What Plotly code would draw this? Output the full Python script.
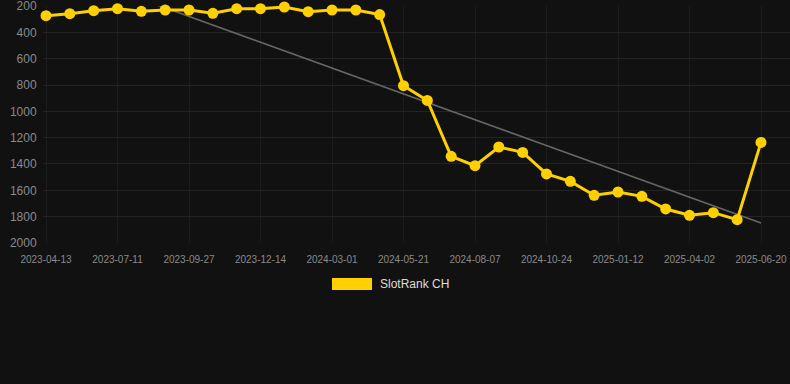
import numpy as np
import plotly.graph_objects as go

dates = [
    "2023-04-13", "2023-05-13", "2023-06-11", "2023-07-11", "2023-08-06", "2023-09-01",
    "2023-09-27", "2023-10-23", "2023-11-18", "2023-12-14", "2024-01-09", "2024-02-04",
    "2024-03-01", "2024-03-28", "2024-04-24", "2024-05-21", "2024-06-16", "2024-07-12",
    "2024-08-07", "2024-09-02", "2024-09-28", "2024-10-24", "2024-11-20", "2024-12-17",
    "2025-01-12", "2025-02-08", "2025-03-07", "2025-04-02", "2025-04-28", "2025-05-25",
    "2025-06-20",
]
ranks = [
    273, 258, 235, 220, 240, 230, 230, 255, 220, 220, 207, 243, 230, 230, 265,
    805, 917, 1342, 1413, 1271, 1312, 1476, 1532, 1638, 1613, 1646, 1742, 1790,
    1770, 1823, 1236,
]
y_ticks = [200, 400, 600, 800, 1000, 1200, 1400, 1600, 1800, 2000]
series_name = "SlotRank CH"

idx = np.arange(len(ranks))
slope, intercept = np.polyfit(idx, ranks, 1)
trend = slope * idx + intercept

YELLOW = "#FFD000"
BG = "#111111"
GRID = "#232323"

fig = go.Figure()
fig.add_trace(go.Scatter(
    x=dates, y=trend, mode="lines",
    line=dict(color="#666666", width=1.6),
    hoverinfo="skip", showlegend=False,
))
fig.add_trace(go.Scatter(
    x=dates, y=ranks, mode="lines+markers", name=series_name,
    line=dict(color=YELLOW, width=3),
    marker=dict(color=YELLOW, size=11),
    cliponaxis=False, showlegend=False,
))

# legend drawn manually (wide colour box + label)
fig.add_shape(type="rect", xref="paper", yref="paper",
              x0=(332 - 43) / 747, x1=(372 - 43) / 747,
              y0=(243 - 290) / 237, y1=(243 - 278) / 237,
              fillcolor=YELLOW, line=dict(width=0))
fig.add_annotation(xref="paper", yref="paper",
                   x=(378 - 43) / 747, y=(243 - 284) / 237,
                   xanchor="left", yanchor="middle", showarrow=False,
                   text=series_name,
                   font=dict(family="Liberation Sans, Arial, sans-serif", size=12, color="#dddddd"))

px_per = (761 - 46) / 30
fig.update_layout(
    width=790, height=384,
    margin=dict(l=43, r=0, t=6, b=141),
    paper_bgcolor=BG, plot_bgcolor=BG,
    font=dict(family="Liberation Sans, Arial, sans-serif"),
    showlegend=False,
    xaxis=dict(
        type="category",
        range=[-(46 - 43) / px_per, 30 + (790 - 761) / px_per],
        tickmode="array", tickvals=dates[::3], ticktext=dates[::3],
        tickfont=dict(size=10, color="#8a8a8a"),
        showgrid=True, gridcolor="#1c1c1c", gridwidth=1,
        zeroline=False, showline=False,
        ticks="outside", ticklen=7, tickcolor=BG,
        tickangle=0, ticklabeloverflow="allow",
    ),
    yaxis=dict(
        range=[2000.5, 199.5],
        tickmode="array", tickvals=y_ticks,
        tickfont=dict(size=12, color="#8a8a8a"),
        showgrid=True, gridcolor=GRID, gridwidth=1,
        zeroline=False, showline=False,
        ticks="outside", ticklen=3, tickcolor=BG,
        ticklabeloverflow="allow",
    ),
)

fig.write_html(
    "out.html",
    config={"displayModeBar": False},
    post_script="document.body.style.margin='0';document.body.style.background='#111111';",
)
